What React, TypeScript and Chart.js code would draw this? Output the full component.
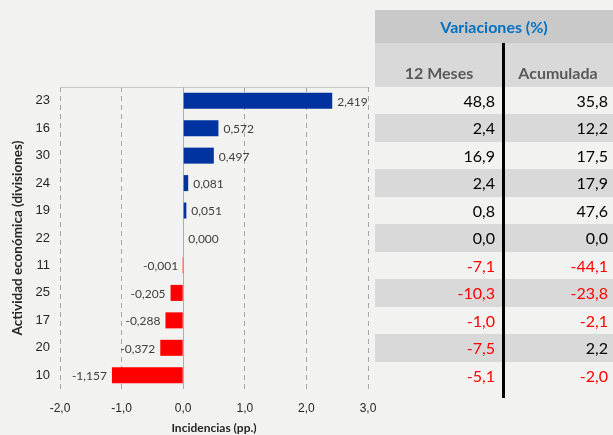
import { useEffect, useRef } from 'react';
import { Chart, registerables } from 'chart.js';

Chart.register(...registerables);

const categories = ['23', '16', '30', '24', '19', '22', '11', '25', '17', '20', '10'];
const incidencias = [2.419, 0.572, 0.497, 0.081, 0.051, 0.0, -0.001, -0.205, -0.288, -0.372, -1.157];
const var12Meses = [48.8, 2.4, 16.9, 2.4, 0.8, 0.0, -7.1, -10.3, -1.0, -7.5, -5.1];
const varAcumulada = [35.8, 12.2, 17.5, 17.9, 47.6, 0.0, -44.1, -23.8, -2.1, 2.2, -2.0];
const xMin = -2;
const xMax = 3;

const BG = '#f2f2f0';
const BLUE = '#0033a0';
const RED = '#ff0000';

const fmt3 = (v: number) => v.toFixed(3).replace('.', ',');
const fmt1 = (v: number) => Number(v).toFixed(1).replace('.', ',');

const PLOT_TOP = 87;
const PLOT_BOTTOM = 389;
const ROW_H = (PLOT_BOTTOM - PLOT_TOP) / categories.length;

export default function App() {
  const ref = useRef<HTMLCanvasElement>(null);

  useEffect(() => {
    document.body.style.margin = '0';
    document.body.style.background = BG;
    const canvas = ref.current;
    if (!canvas) return;

    const linesPlugin = {
      id: 'customLines',
      beforeDatasetsDraw(chart: any) {
        const { ctx, chartArea, scales } = chart;
        ctx.save();
        ctx.setLineDash([]);
        ctx.lineWidth = 1;
        ctx.strokeStyle = '#c8c8c8';
        ctx.beginPath();
        ctx.moveTo(chartArea.left, chartArea.top + 0.5);
        ctx.lineTo(chartArea.right, chartArea.top + 0.5);
        ctx.stroke();
        const x0 = Math.round(scales.x.getPixelForValue(0)) + 0.5;
        ctx.strokeStyle = '#8db4e2';
        ctx.beginPath();
        ctx.moveTo(x0, chartArea.top);
        ctx.lineTo(x0, chartArea.bottom);
        ctx.stroke();
        ctx.restore();
      },
      afterDatasetsDraw(chart: any) {
        const { ctx } = chart;
        const meta = chart.getDatasetMeta(0);
        ctx.save();
        ctx.font = '12px Lato';
        ctx.fillStyle = '#404040';
        ctx.textBaseline = 'middle';
        meta.data.forEach((bar: any, i: number) => {
          const v = incidencias[i];
          const { x, y } = bar.getProps(['x', 'y'], true);
          if (v >= 0) {
            ctx.textAlign = 'left';
            ctx.fillText(fmt3(v), x + 5, y + 1);
          } else {
            ctx.textAlign = 'right';
            ctx.fillText(fmt3(v), x - 5, y + 1);
          }
        });
        ctx.restore();
      },
    };

    const chart = new Chart(canvas, {
      type: 'bar',
      data: {
        labels: categories,
        datasets: [
          {
            data: incidencias,
            backgroundColor: incidencias.map((v) => (v < 0 ? RED : BLUE)),
            borderWidth: 0,
            barPercentage: 0.583,
            categoryPercentage: 1,
          },
        ],
      },
      options: {
        indexAxis: 'y',
        animation: false,
        responsive: false,
        maintainAspectRatio: false,
        layout: { padding: { top: PLOT_TOP, right: 22, bottom: 0, left: 0 } },
        plugins: { legend: { display: false }, tooltip: { enabled: false } },
        scales: {
          x: {
            min: xMin,
            max: xMax,
            afterFit: (s: any) => {
              s.height = 435 - PLOT_BOTTOM;
            },
            ticks: {
              stepSize: 1,
              callback: (v: any) => fmt1(v),
              font: { family: 'Liberation Sans', size: 12 },
              color: '#262626',
              padding: 12,
            },
            grid: {
              color: (c: any) => (c.tick && c.tick.value === 0 ? 'rgba(0,0,0,0)' : '#a6a6a6'),
              drawTicks: false,
              lineWidth: 1,
            },
            border: { display: false, dash: [5, 4] },
            title: {
              display: true,
              text: 'Incidencias (pp.)',
              font: { family: 'Lato', weight: 'bold', size: 12 },
              color: '#262626',
              padding: { top: 0, bottom: 0 },
            },
          },
          y: {
            afterFit: (s: any) => {
              s.width = 60;
            },
            ticks: {
              font: { family: 'Liberation Sans', size: 13 },
              color: '#262626',
              padding: 10,
            },
            grid: { display: false, drawTicks: false },
            border: { display: false },
            title: {
              display: true,
              text: 'Actividad económica (divisiones)',
              font: { family: 'Lato', weight: 'bold', size: 13.5 },
              color: '#262626',
              padding: { top: 10, bottom: 0 },
            },
          },
        },
      } as any,
      plugins: [linesPlugin],
    });
    return () => chart.destroy();
  }, []);

  const cellNum = (v: number, padRight: number, width: number) => (
    <div
      style={{
        width,
        boxSizing: 'border-box',
        paddingRight: padRight,
        textAlign: 'right',
        color: v < 0 ? RED : '#000',
      }}
    >
      {fmt1(v)}
    </div>
  );

  return (
    <div style={{ position: 'absolute', left: 0, top: 0, width: 613, height: 435, background: BG, overflow: 'hidden' }}>
      <canvas ref={ref} width={390} height={435} style={{ position: 'absolute', left: 0, top: 0, width: 390, height: 435 }} />
      <div
        style={{
          position: 'absolute',
          left: 375,
          top: 10,
          width: 238,
          fontFamily: 'Lato, sans-serif',
        }}
      >
        <div
          style={{
            height: 33,
            background: '#c9c9c9',
            color: '#0070c0',
            fontWeight: 'bold',
            fontSize: 16,
            lineHeight: '33px',
            textAlign: 'center',
          }}
        >
          Variaciones (%)
        </div>
        <div
          style={{
            height: PLOT_TOP - 43,
            background: '#d9d9d9',
            color: '#595959',
            fontWeight: 'bold',
            fontSize: 16,
            display: 'flex',
            alignItems: 'flex-end',
            boxSizing: 'border-box',
            paddingBottom: 4,
            lineHeight: '20px',
          }}
        >
          <div style={{ width: 128, textAlign: 'center' }}>12 Meses</div>
          <div style={{ width: 110, textAlign: 'center' }}>Acumulada</div>
        </div>
        {categories.map((c, i) => (
          <div
            key={c}
            style={{
              height: ROW_H,
              lineHeight: ROW_H + 'px',
              display: 'flex',
              fontSize: 16,
              background: i % 2 === 1 ? '#d9d9d9' : 'transparent',
            }}
          >
            {cellNum(var12Meses[i], 7, 127)}
            <div style={{ width: 3 }} />
            {cellNum(varAcumulada[i], 5, 108)}
          </div>
        ))}
      </div>
      <div style={{ position: 'absolute', left: 502, top: 43, width: 3, height: 355, background: '#000' }} />
    </div>
  );
}
